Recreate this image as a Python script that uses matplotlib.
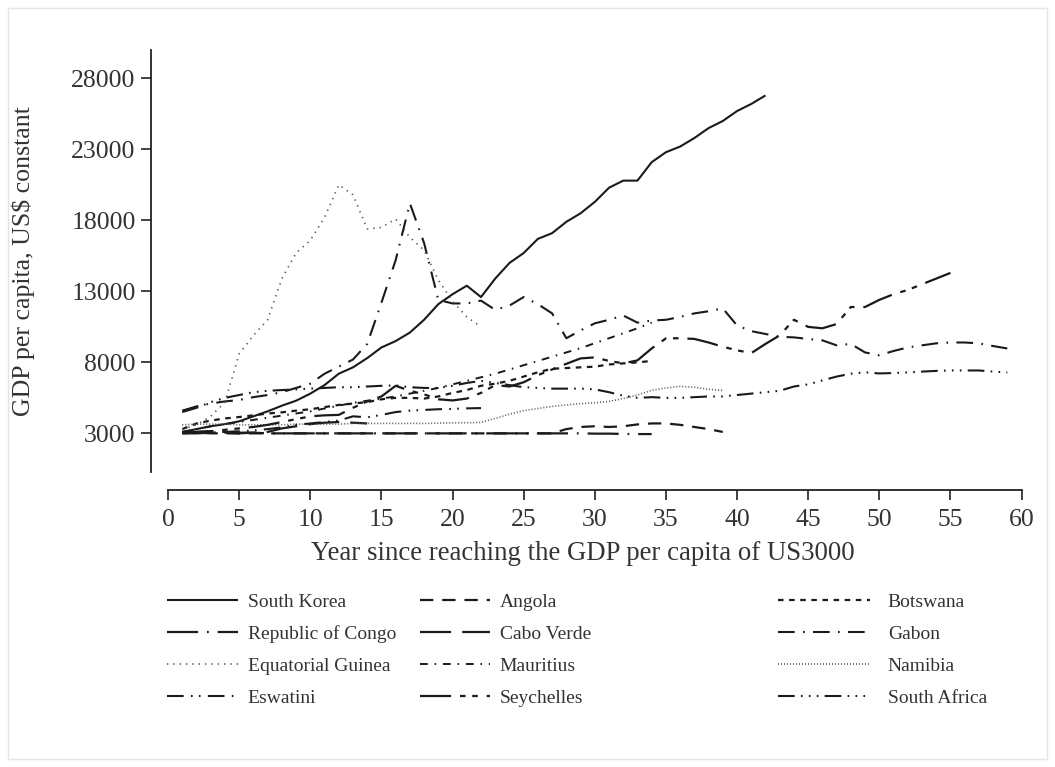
import matplotlib
matplotlib.use("Agg")
import matplotlib.pyplot as plt
from matplotlib.patches import Rectangle

plt.rcParams['font.family'] = ['Liberation Serif', 'DejaVu Serif']

# ---------------- data ----------------
south_korea = [3100, 3300, 3500, 3650, 3850, 4200, 4550, 4950, 5300, 5800,
               6400, 7200, 7650, 8300, 9050, 9500, 10100, 11000, 12100, 12800,
               13400, 12600, 13900, 15000, 15700, 16700, 17100, 17900, 18500, 19300,
               20300, 20800, 20800, 22100, 22800, 23200, 23800, 24500, 25000, 25700,
               26200, 26800]
angola = [3100, 3050, 3000, 3000, 3000, 3000, 3000, 3000, 3000, 3000,
          3000, 3000, 3000, 3000, 3000, 3000, 3000, 3000, 3000, 3000,
          3000, 3000, 3000, 3000, 3000, 3000, 3000, 3300, 3450, 3500,
          3450, 3500, 3630, 3700, 3700, 3600, 3450, 3300, 3100]
botswana = [3300, 3700, 3900, 4050, 4150, 4270, 4400, 4480, 4600, 4700,
            4850, 5000, 5100, 5200, 5400, 5500, 5500, 5450, 5600, 5850,
            6050, 6350, 6500, 6700, 7000, 7300, 7550, 7600, 7650, 7700,
            7850, 7930, 8000, 8100]
congo = [3050, 3100, 3150, 3100, 3050, 3050, 3000, 3000, 3000, 3000,
         3000, 3000, 3000, 3000, 3000, 3000, 3000, 3000, 3000, 3000,
         3000, 3000, 3000, 3000, 3000, 3000, 3000, 3000, 3000, 2980,
         2980, 2960, 2950, 2950]
cabo_verde = [3000, 3000, 3050, 3050, 3000, 3050, 3100, 3350, 3500, 3650,
              3750, 3800, 3750, 3700]
gabon = [4600, 4900, 5100, 5250, 5350, 5550, 5700, 5900, 6200, 6500,
         7200, 7700, 8200, 9300, 12200, 15200, 19200, 16400, 12400, 12150,
         12150, 12350, 11700, 12000, 12600, 12100, 11450, 9700, 10250, 10750,
         11000, 11300, 10800, 10950, 11000, 11200, 11450, 11600, 11800, 10600,
         10200, 10000, 9800, 9760, 9650, 9550, 9200, 9300, 8700, 8500,
         8800, 9050, 9200, 9340, 9400, 9400, 9340, 9150, 8980]
eq_guinea = [3300, 3600, 4200, 5200, 8600, 9900, 11000, 13900, 15700, 16600,
             18200, 20500, 19800, 17400, 17500, 18100, 16800, 15900, 13800, 12300,
             11200, 10500]
mauritius = [3100, 3300, 3500, 3650, 3800, 3950, 4100, 4250, 4400, 4550,
             4750, 4950, 5150, 5300, 5450, 5600, 5800, 6000, 6200, 6450,
             6700, 6950, 7200, 7500, 7800, 8100, 8400, 8700, 9000, 9350,
             9700, 10050, 10400, 10800]
namibia = [3600, 3650, 3650, 3650, 3600, 3600, 3600, 3600, 3650, 3650,
           3650, 3650, 3700, 3700, 3700, 3700, 3700, 3700, 3720, 3740,
           3750, 3770, 4050, 4350, 4600, 4750, 4900, 5000, 5100, 5150,
           5250, 5450, 5700, 6030, 6200, 6310, 6250, 6100, 6030]
eswatini = [3000, 3050, 3050, 3100, 3150, 3200, 3300, 3420, 3600, 3700,
            3800, 3900, 4200, 4130, 4300, 4500, 4600, 4650, 4700, 4720,
            4760, 4780]
seychelles = [3050, 3100, 3150, 3250, 3350, 3450, 3600, 3800, 4000, 4200,
              4270, 4300, 4800, 5250, 5600, 6350, 6000, 5750, 5400, 5320,
              5450, 5850, 6400, 6300, 6600, 7100, 7500, 7900, 8280, 8350,
              8100, 7930, 8140, 8980, 9690, 9700, 9650, 9400, 9100, 8850,
              8650, 9300, 9900, 11000, 10500, 10400, 10700, 11900, 11900, 12400,
              12800, 13100, 13500, 13900, 14300]
south_africa = [4500, 4800, 5200, 5500, 5700, 5900, 6000, 6050, 6100, 6150,
                6200, 6250, 6250, 6300, 6350, 6380, 6250, 6200, 6200, 6350,
                6550, 6700, 6550, 6400, 6250, 6200, 6150, 6150, 6150, 6100,
                5900, 5650, 5500, 5550, 5500, 5500, 5550, 5600, 5600, 5700,
                5800, 5900, 6000, 6300, 6450, 6730, 7000, 7200, 7300, 7220,
                7250, 7290, 7350, 7400, 7430, 7430, 7430, 7350, 7290]

x_ticks = [0, 5, 10, 15, 20, 25, 30, 35, 40, 45, 50, 55, 60]
y_ticks = [3000, 8000, 13000, 18000, 23000, 28000]
x_label = "Year since reaching the GDP per capita of US3000"
y_label = "GDP per capita, US$ constant"

# ---------------- styles ----------------
K = '#1a1a1a'
series = [
    ("South Korea", south_korea, dict(color=K, lw=1.5, ls='-')),
    ("Angola", angola, dict(color=K, lw=1.6, ls=(0, (6, 4)))),
    ("Botswana", botswana, dict(color=K, lw=1.6, ls=(0, (2.5, 2.5)))),
    ("Republic of Congo", congo, dict(color=K, lw=1.6, ls=(0, (14, 4, 0.8, 4)))),
    ("Cabo Verde", cabo_verde, dict(color=K, lw=1.6, ls=(0, (14, 5)))),
    ("Gabon", gabon, dict(color=K, lw=1.5, ls=(0, (8, 4, 0.8, 4)))),
    ("Equatorial Guinea", eq_guinea, dict(color='#555555', lw=1.2, ls=(0, (0.8, 3)))),
    ("Mauritius", mauritius, dict(color=K, lw=1.4, ls=(0, (4, 3.5, 0.8, 3.5)))),
    ("Namibia", namibia, dict(color='#555555', lw=1.2, ls=(0, (0.6, 1.2)))),
    ("Eswatini", eswatini, dict(color=K, lw=1.5, ls=(0, (8, 3.5, 0.8, 3, 0.8, 3.5)))),
    ("Seychelles", seychelles, dict(color=K, lw=1.6, ls=(0, (14, 4, 2.5, 3, 2.5, 4)))),
    ("South Africa", south_africa, dict(color=K, lw=1.5, ls=(0, (8, 3, 0.8, 3, 0.8, 3, 0.8, 3)))),
]

W, H = 1055, 767
fig = plt.figure(figsize=(W / 100, H / 100), dpi=100)
fig.patches.append(Rectangle((8 / W, 8 / H), 1 - 16 / W, 1 - 16 / H,
                             transform=fig.transFigure, fill=False,
                             edgecolor='#e4e4e4', linewidth=1.0))

ax_left, ax_top, ax_w, ax_h = 151, 50, 889, 421.7
ax = fig.add_axes([ax_left / W, 1 - (ax_top + ax_h) / H, ax_w / W, ax_h / H])

lines = {}
for name, vals, st in series:
    t = list(range(1, len(vals) + 1))
    ln, = ax.plot(t, vals, label=name, solid_capstyle='butt',
                  dash_capstyle='butt', **st)
    lines[name] = ln

ax.set_xlim(-1.2, 61.3)
ax.set_ylim(300, 30000)
ax.set_xticks(x_ticks)
ax.set_yticks(y_ticks)
ax.set_xticklabels([str(v) for v in x_ticks])
ax.set_yticklabels([str(v) for v in y_ticks])

for s in ('top', 'right'):
    ax.spines[s].set_visible(False)
ax.spines['bottom'].set_position(('outward', 13))
ax.spines['bottom'].set_bounds(0, 60)
for s in ('left', 'bottom'):
    ax.spines[s].set_color('#222222')
    ax.spines[s].set_linewidth(1.3)
ax.tick_params(axis='both', direction='out', length=7, width=1.2,
               color='#222222', labelcolor='#333333', labelsize=18.5)
ax.tick_params(axis='x', pad=7)
ax.tick_params(axis='y', pad=4)

ax.set_xlabel(x_label, fontsize=19.3, color='#333333')
ax.set_ylabel(y_label, fontsize=18.6, color='#333333')
ax.xaxis.set_label_coords(0.486, -0.165)
ax.yaxis.set_label_coords(-0.13, 0.5)

# legend: three columns built with the library's legend
col_names = [
    ["South Korea", "Republic of Congo", "Equatorial Guinea", "Eswatini"],
    ["Angola", "Cabo Verde", "Mauritius", "Seychelles"],
    ["Botswana", "Gabon", "Namibia", "South Africa"],
]
col_x = [167, 420, 778]
col_hl = [3.65, 3.6, 4.75]
col_tp = [0.5, 0.5, 0.9]
for names, cx, hl, tp in zip(col_names, col_x, col_hl, col_tp):
    leg = fig.legend([lines[n] for n in names], names, loc='upper left',
                     bbox_to_anchor=(cx / W, 1 - 593 / H), frameon=False,
                     fontsize=14, handlelength=hl, handletextpad=tp,
                     borderpad=0, borderaxespad=0, labelspacing=0.74)
    for txt in leg.get_texts():
        txt.set_color('#333333')

fig.savefig("out.png", dpi=100, facecolor='white')
